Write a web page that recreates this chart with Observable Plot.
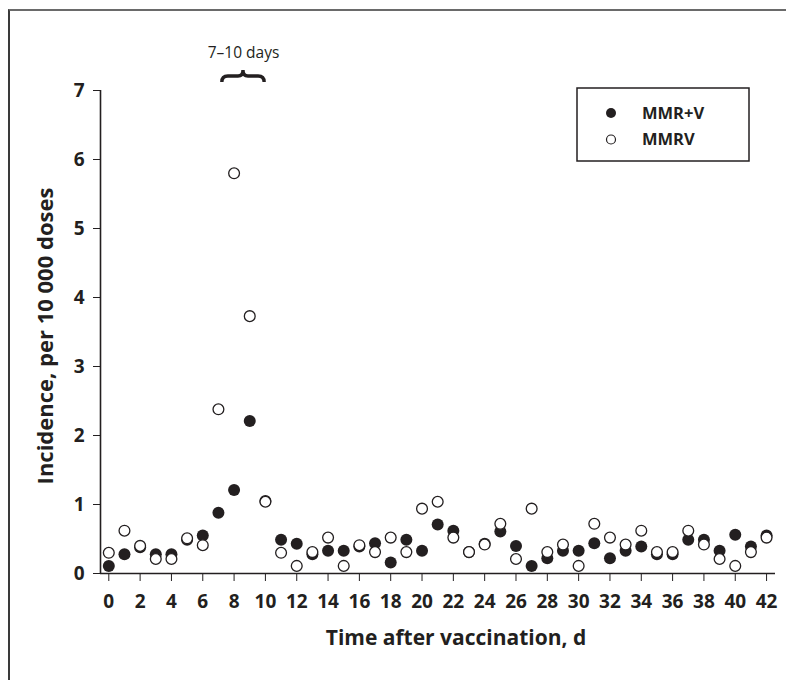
<!DOCTYPE html>
<html>
<head>
<meta charset="utf-8">
<script src="https://cdn.jsdelivr.net/npm/d3@7"></script>
<script src="https://cdn.jsdelivr.net/npm/@observablehq/plot@0.6"></script>
<style>
  html, body { margin: 0; padding: 0; background: #fff; overflow: hidden; }
  #wrap { position: relative; width: 786px; height: 680px; }
  #border { position: absolute; left: 8px; top: 9px; width: 900px; height: 900px;
            border-left: 2px solid #3a3a3a; border-top: 2px solid #6a6a6a; pointer-events: none; }
  #chart { position: absolute; left: 0; top: 0; }
</style>
</head>
<body>
<div id="wrap"><div id="chart"></div><div id="border"></div></div>
<script>
// ---- data ----
const days = [0,1,2,3,4,5,6,7,8,9,10,11,12,13,14,15,16,17,18,19,20,21,22,23,24,25,26,27,28,29,30,31,32,33,34,35,36,37,38,39,40,41,42];
const mmrPlusV = [0.11,0.28,0.38,0.28,0.28,0.49,0.55,0.88,1.21,2.21,1.05,0.49,0.43,0.28,0.33,0.33,0.39,0.44,0.16,0.49,0.33,0.71,0.62,0.31,0.43,0.61,0.40,0.11,0.22,0.33,0.33,0.44,0.22,0.33,0.39,0.28,0.28,0.49,0.49,0.33,0.56,0.39,0.55];
const mmrv = [0.30,0.62,0.40,0.21,0.21,0.51,0.41,2.38,5.80,3.73,1.04,0.30,0.11,0.31,0.52,0.11,0.41,0.31,0.52,0.31,0.94,1.04,0.52,0.31,0.42,0.72,0.21,0.94,0.31,0.42,0.11,0.72,0.52,0.42,0.62,0.31,0.31,0.62,0.42,0.21,0.11,0.31,0.52];
const xTicks = [0,2,4,6,8,10,12,14,16,18,20,22,24,26,28,30,32,34,36,38,40,42];
const yTicks = [0,1,2,3,4,5,6,7];
const seriesNames = ["MMR+V", "MMRV"];
const xTitle = "Time after vaccination, d";
const yTitle = "Incidence, per 10 000 doses";
const annotation = "7\u201310 days";
const braceDays = [7.25, 9.95];

const xDomain = [-0.53, 42.57];
const yDomain = [0, 7];
const ink = "#231f20";

const filled = days.map((d, i) => ({day: d, value: mmrPlusV[i]}));
const open = days.map((d, i) => ({day: d, value: mmrv[i]}));

const plot = Plot.plot({
  width: 786,
  height: 680,
  marginLeft: 100,
  marginRight: 11,
  marginTop: 90,
  marginBottom: 107,
  style: {fontFamily: "'Open Sans', sans-serif", fontWeight: "bold", fontSize: "19px", color: ink, background: "transparent"},
  x: {domain: xDomain},
  y: {domain: yDomain},
  marks: [
    Plot.axisX({ticks: xTicks, tickSize: 8, tickPadding: 13, fontSize: 19, fontWeight: "bold", label: null, tickFormat: d => String(d)}),
    Plot.axisY({ticks: yTicks, tickSize: 7, tickPadding: 9, fontSize: 19, fontWeight: "bold", label: null, tickFormat: d => String(d)}),
    Plot.ruleY([yDomain[0]], {stroke: ink, strokeWidth: 1.6}),
    Plot.ruleX([xDomain[0]], {y1: yDomain[0], y2: yDomain[1], stroke: ink, strokeWidth: 1.6}),
    Plot.dot(filled, {x: "day", y: "value", r: 6, fill: ink, stroke: "none"}),
    Plot.dot(open, {x: "day", y: "value", r: 5.4, fill: "white", stroke: ink, strokeWidth: 1.3}),
    Plot.text([xTitle], {frameAnchor: "bottom", dx: 18, dy: 71, fontSize: 21, fontWeight: "bold", fill: ink}),
    Plot.text([yTitle], {frameAnchor: "left", textAnchor: "middle", rotate: -90, dx: -55, dy: 4, fontSize: 22, fontWeight: "bold", fill: ink}),
    Plot.text([annotation], {x: [d3.mean(braceDays)], y: [yDomain[1]], dy: -37, fontSize: 15.5, fontWeight: "normal", fill: ink})
  ]
});
document.getElementById("chart").appendChild(plot);

// brace and legend drawn with the plot's scales
const sx = plot.scale("x").apply;
const sy = plot.scale("y").apply;
const svg = d3.select(plot);
const x0 = sx(braceDays[0]), x1 = sx(braceDays[1]), xm = (x0 + x1) / 2;
const yb = sy(yDomain[1]) - 8, ym = yb - 6, yt = yb - 12;
svg.append("path")
  .attr("d", `M${x0},${yb} Q${x0},${ym} ${x0+6},${ym} L${xm-5},${ym} Q${xm},${ym} ${xm},${yt} Q${xm},${ym} ${xm+5},${ym} L${x1-6},${ym} Q${x1},${ym} ${x1},${yb}`)
  .attr("fill", "none").attr("stroke", ink).attr("stroke-width", 3.4);

const lg = svg.append("g");
lg.append("rect").attr("x", 577).attr("y", 88).attr("width", 172).attr("height", 73)
  .attr("fill", "white").attr("stroke", ink).attr("stroke-width", 1.5);
seriesNames.forEach((name, i) => {
  const cy = 113 + i * 26.5;
  lg.append("circle").attr("cx", 611).attr("cy", cy).attr("r", i === 0 ? 5 : 4.5)
    .attr("fill", i === 0 ? ink : "white").attr("stroke", i === 0 ? "none" : ink).attr("stroke-width", 1.2);
  lg.append("text").attr("x", 642).attr("y", cy).attr("dy", "0.36em")
    .attr("text-anchor", "start")
    .attr("font-size", 16.5).attr("font-weight", "bold").attr("fill", ink).text(name);
});
</script>
</body>
</html>
